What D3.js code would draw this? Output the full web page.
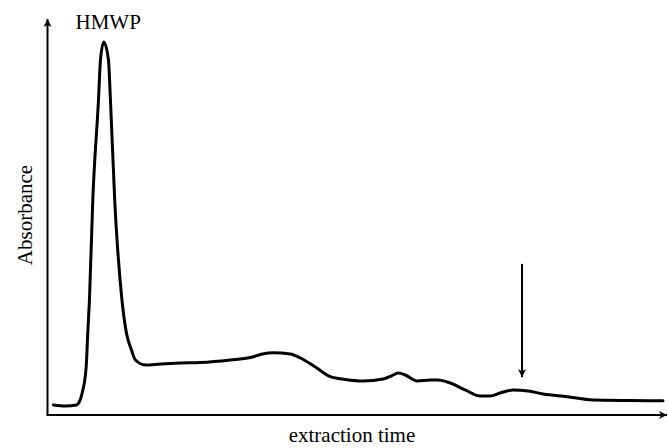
<!DOCTYPE html>
<html>
<head>
<meta charset="utf-8">
<script src="https://cdn.jsdelivr.net/npm/d3@7"></script>
<style>
  body { margin: 0; background: #fff; }
</style>
</head>
<body>
<script>
// chromatogram trace
const time = [0.97, 2.9, 4.68, 5.05, 5.6, 6.24, 6.5, 6.77, 7.31, 8.23, 8.55, 9.08, 9.84, 10.16, 10.85, 12.02, 12.74, 13.55, 14.19, 15.81,
  18.23, 21.45, 24.68, 29.52, 32.74, 34.68, 36.45, 39.19, 40.81, 43.23, 45.65, 48.06, 50.97, 54.19, 55.48, 56.61, 57.74, 59.68,
  61.77, 63.06, 65.0, 67.42, 69.84, 71.45, 73.06, 75.16, 77.58, 80.0, 83.87, 88.06, 94.03, 99.35]
const absorbance = [2.67, 2.4, 2.67, 3.2, 5.87, 12.8, 21.87, 30.67, 57.33, 84, 94.67, 99.47, 94.67, 84, 57.33, 30.67, 21.87, 17.33, 14.67, 13.33,
  13.6, 13.87, 14.0, 14.67, 15.33, 16.27, 16.61, 16.27, 15.2, 12.8, 10.21, 9.47, 9.07, 9.6, 10.4, 11.2, 10.67, 9.07,
  9.33, 9.33, 8.53, 6.67, 5.07, 5.07, 5.87, 6.67, 6.4, 5.6, 4.88, 4.0, 3.87, 3.81]

const peakLabel = "HMWP"
const peakLabelAt = [9.8, 102.9]
const markerTime = 76.6
const markerFrom = 40.3
const markerTo = 10.1
const xTitle = "extraction time"
const yTitle = "Absorbance"

const width = 668
const height = 448
const serif = "'Liberation Serif', 'Times New Roman', Times, serif"

const x = d3.scaleLinear().domain([0, 100]).range([47.5, 667])
const y = d3.scaleLinear().domain([0, 100]).range([415, 40])

const svg = d3.select("body")
    .append("svg")
    .attr("width", width)
    .attr("height", height)
    .attr("font-family", serif)

const defs = svg.append("defs")
defs.append("marker")
    .attr("id", "head")
    .attr("viewBox", "0 0 10 10")
    .attr("refX", 10)
    .attr("refY", 5)
    .attr("markerUnits", "userSpaceOnUse")
    .attr("markerWidth", 10)
    .attr("markerHeight", 8)
    .attr("orient", "auto")
    .append("path")
    .attr("d", "M0,0 L10,5 L0,10 L2.5,5 Z")
    .attr("fill", "#000")

// axes
svg.append("line")
    .attr("x1", x(0)).attr("y1", y(0))
    .attr("x2", x(0)).attr("y2", y(105.6))
    .attr("stroke", "#000").attr("stroke-width", 2)
    .attr("marker-end", "url(#head)")

svg.append("line")
    .attr("x1", x(0) - 1).attr("y1", y(0))
    .attr("x2", x(100)).attr("y2", y(0))
    .attr("stroke", "#000").attr("stroke-width", 2)
    .attr("marker-end", "url(#head)")

// trace
const line = d3.line()
    .x((d, i) => x(time[i]))
    .y(d => y(d))
    .curve(d3.curveMonotoneX)

svg.append("path")
    .datum(absorbance)
    .attr("d", line)
    .attr("fill", "none")
    .attr("stroke", "#000")
    .attr("stroke-width", 3)
    .attr("stroke-linejoin", "round")
    .attr("stroke-linecap", "round")

// marker arrow
svg.append("line")
    .attr("x1", x(markerTime)).attr("y1", y(markerFrom))
    .attr("x2", x(markerTime)).attr("y2", y(markerTo))
    .attr("stroke", "#000").attr("stroke-width", 2)
    .attr("marker-end", "url(#head)")

// labels
svg.append("text")
    .attr("x", x(peakLabelAt[0]))
    .attr("y", y(peakLabelAt[1]))
    .attr("text-anchor", "middle")
    .attr("font-size", 21)
    .text(peakLabel)

svg.append("text")
    .attr("x", 352)
    .attr("y", 442)
    .attr("text-anchor", "middle")
    .attr("font-size", 21)
    .text(xTitle)

svg.append("text")
    .attr("transform", "translate(32,215) rotate(-90)")
    .attr("text-anchor", "middle")
    .attr("font-size", 21)
    .text(yTitle)
</script>
</body>
</html>
